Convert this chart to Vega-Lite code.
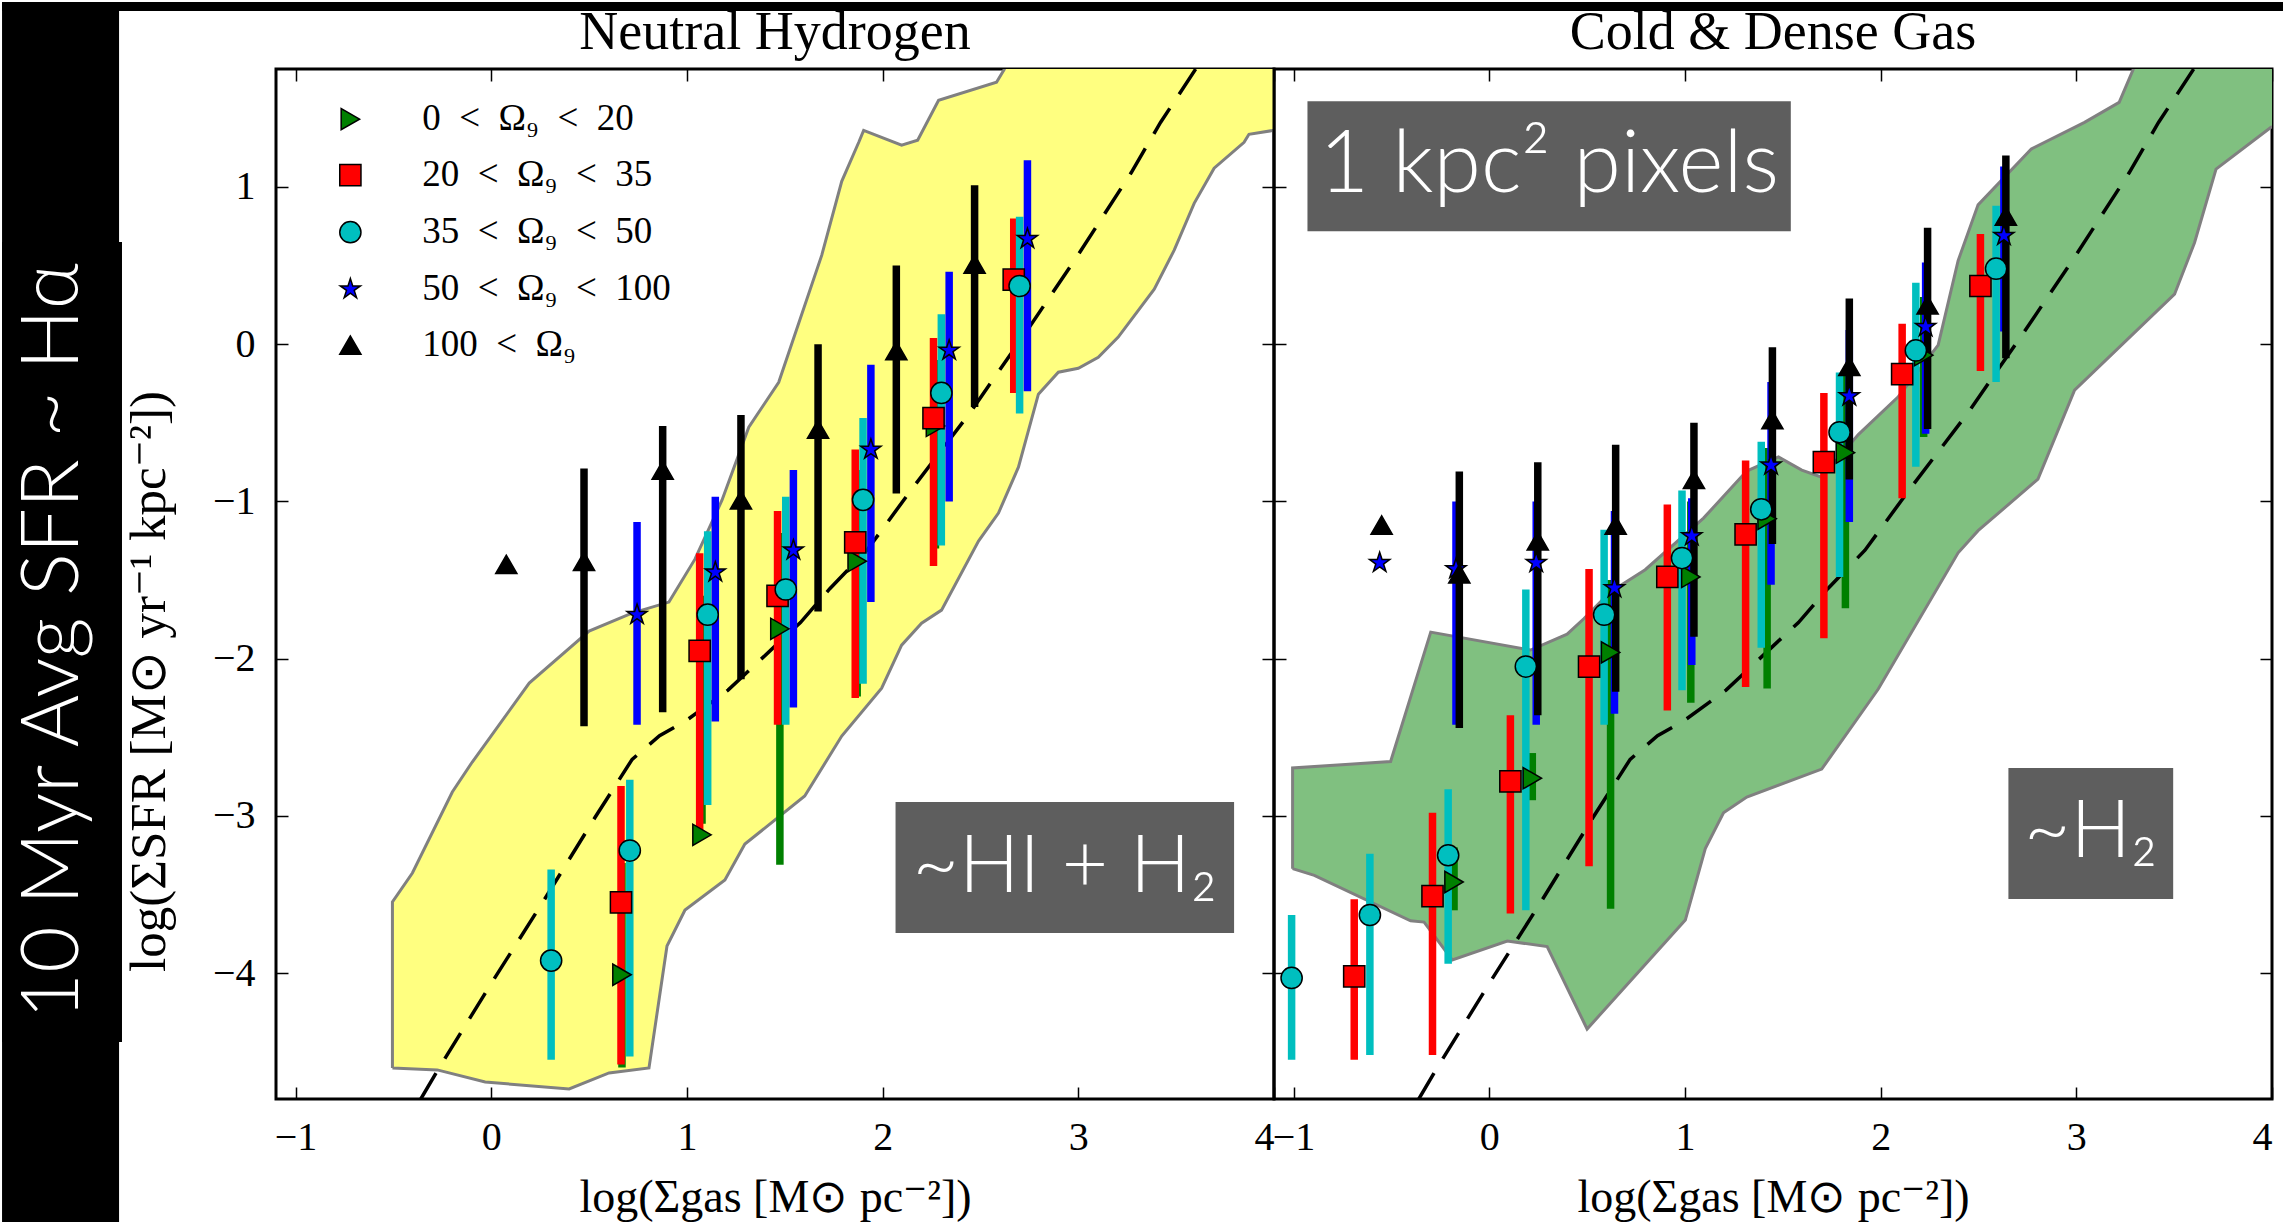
{
  "$schema": "https://vega.github.io/schema/vega-lite/v6.json",
  "padding": 0,
  "background": "white",
  "spacing": 0,
  "bounds": "flush",
  "config": {
    "view": {"stroke": "black", "strokeWidth": 3},
    "axis": {"grid": false, "domain": false, "tickColor": "black", "tickWidth": 1.5, "tickSize": -12,
      "labelFont": "Liberation Serif", "labelFontSize": 40, "labelColor": "black",
      "titleFont": "Liberation Serif", "titleFontSize": 46, "titleFontWeight": "normal", "titleColor": "black", "zindex": 1}
  },
  "datasets": {
    "strip": [
      {"x": -2.5, "x2": -1.902, "y": -5.595, "y2": 2.176},
      {"x": -2.5, "x2": -1.887, "y": -4.438, "y2": 0.65},
      {"x": -2.5, "x2": 4.0, "y": 2.119, "y2": 2.176}
    ],
    "topbar": [
      {"x": -1.1, "x2": 4.066, "y": 2.119, "y2": 2.176}
    ],
    "poly_yellow": [
      {"i": 0, "x": -0.505, "y": -4.603}, {"i": 1, "x": -0.505, "y": -3.547}, {"i": 2, "x": -0.403, "y": -3.363},
      {"i": 3, "x": -0.199, "y": -2.848}, {"i": 4, "x": -0.097, "y": -2.657}, {"i": 5, "x": 0.194, "y": -2.155},
      {"i": 6, "x": 0.5, "y": -1.824}, {"i": 7, "x": 0.719, "y": -1.71}, {"i": 8, "x": 0.908, "y": -1.64},
      {"i": 9, "x": 1.041, "y": -1.367}, {"i": 10, "x": 1.179, "y": -0.992}, {"i": 11, "x": 1.316, "y": -0.528},
      {"i": 12, "x": 1.469, "y": -0.242}, {"i": 13, "x": 1.689, "y": 0.566}, {"i": 14, "x": 1.791, "y": 1.036},
      {"i": 15, "x": 1.878, "y": 1.284}, {"i": 16, "x": 1.903, "y": 1.36}, {"i": 17, "x": 2.097, "y": 1.265},
      {"i": 18, "x": 2.179, "y": 1.297}, {"i": 19, "x": 2.286, "y": 1.551}, {"i": 20, "x": 2.582, "y": 1.666},
      {"i": 21, "x": 2.622, "y": 1.748}, {"i": 22, "x": 2.66, "y": 2.0}, {"i": 23, "x": 4.2, "y": 2.0},
      {"i": 24, "x": 4.2, "y": 1.36}, {"i": 25, "x": 4.0, "y": 1.36}, {"i": 26, "x": 3.872, "y": 1.335},
      {"i": 27, "x": 3.847, "y": 1.284}, {"i": 28, "x": 3.694, "y": 1.119}, {"i": 29, "x": 3.592, "y": 0.896},
      {"i": 30, "x": 3.49, "y": 0.598}, {"i": 31, "x": 3.388, "y": 0.35}, {"i": 32, "x": 3.204, "y": 0.045},
      {"i": 33, "x": 3.102, "y": -0.083}, {"i": 34, "x": 3.0, "y": -0.153}, {"i": 35, "x": 2.898, "y": -0.178},
      {"i": 36, "x": 2.796, "y": -0.318}, {"i": 37, "x": 2.694, "y": -0.782}, {"i": 38, "x": 2.592, "y": -1.074},
      {"i": 39, "x": 2.49, "y": -1.252}, {"i": 40, "x": 2.301, "y": -1.691}, {"i": 41, "x": 2.199, "y": -1.774},
      {"i": 42, "x": 2.097, "y": -1.914}, {"i": 43, "x": 1.995, "y": -2.187}, {"i": 44, "x": 1.791, "y": -2.492},
      {"i": 45, "x": 1.602, "y": -2.873}, {"i": 46, "x": 1.296, "y": -3.179}, {"i": 47, "x": 1.194, "y": -3.407},
      {"i": 48, "x": 0.99, "y": -3.598}, {"i": 49, "x": 0.898, "y": -3.827}, {"i": 50, "x": 0.806, "y": -4.603},
      {"i": 51, "x": 0.602, "y": -4.634}, {"i": 52, "x": 0.398, "y": -4.736}, {"i": 53, "x": -0.031, "y": -4.692},
      {"i": 54, "x": -0.276, "y": -4.615}, {"i": 55, "x": -0.505, "y": -4.603}
    ],
    "poly_green": [
      {"i": 0, "x": -1.005, "y": -3.335}, {"i": 1, "x": -1.005, "y": -2.695}, {"i": 2, "x": -0.504, "y": -2.654},
      {"i": 3, "x": -0.299, "y": -1.831}, {"i": 4, "x": 0.211, "y": -1.945}, {"i": 5, "x": 0.398, "y": -1.844},
      {"i": 6, "x": 0.483, "y": -1.746}, {"i": 7, "x": 0.617, "y": -1.577}, {"i": 8, "x": 0.797, "y": -1.434},
      {"i": 9, "x": 1.095, "y": -1.106}, {"i": 10, "x": 1.316, "y": -0.807}, {"i": 11, "x": 1.478, "y": -0.717},
      {"i": 12, "x": 1.597, "y": -0.801}, {"i": 13, "x": 1.699, "y": -0.846}, {"i": 14, "x": 1.886, "y": -0.575},
      {"i": 15, "x": 2.09, "y": -0.334}, {"i": 16, "x": 2.294, "y": -0.006}, {"i": 17, "x": 2.396, "y": 0.531},
      {"i": 18, "x": 2.498, "y": 0.886}, {"i": 19, "x": 2.77, "y": 1.241}, {"i": 20, "x": 3.042, "y": 1.411},
      {"i": 21, "x": 3.219, "y": 1.538}, {"i": 22, "x": 3.291, "y": 1.748}, {"i": 23, "x": 3.33, "y": 2.0},
      {"i": 24, "x": 4.2, "y": 2.0}, {"i": 25, "x": 4.2, "y": 1.4}, {"i": 26, "x": 3.995, "y": 1.38},
      {"i": 27, "x": 3.714, "y": 1.113}, {"i": 28, "x": 3.604, "y": 0.645}, {"i": 29, "x": 3.502, "y": 0.318},
      {"i": 30, "x": 2.991, "y": -0.292}, {"i": 31, "x": 2.804, "y": -0.858}, {"i": 32, "x": 2.498, "y": -1.186},
      {"i": 33, "x": 2.396, "y": -1.327}, {"i": 34, "x": 1.988, "y": -2.193}, {"i": 35, "x": 1.699, "y": -2.702},
      {"i": 36, "x": 1.316, "y": -2.88}, {"i": 37, "x": 1.197, "y": -2.98}, {"i": 38, "x": 1.104, "y": -3.207},
      {"i": 39, "x": 1.002, "y": -3.662}, {"i": 40, "x": 0.5, "y": -4.355}, {"i": 41, "x": 0.296, "y": -3.831},
      {"i": 42, "x": 0.092, "y": -3.795}, {"i": 43, "x": -0.189, "y": -3.916}, {"i": 44, "x": -0.333, "y": -3.675},
      {"i": 45, "x": -0.402, "y": -3.667}, {"i": 46, "x": -0.894, "y": -3.378}, {"i": 47, "x": -1.005, "y": -3.335}
    ],
    "dash": [
      {"x": -0.36, "y": -4.8}, {"x": -0.267, "y": -4.603}, {"x": 0.0, "y": -4.065}, {"x": 0.27, "y": -3.535},
      {"x": 0.53, "y": -3.01}, {"x": 0.72, "y": -2.64}, {"x": 0.86, "y": -2.49}, {"x": 1.0, "y": -2.39},
      {"x": 1.21, "y": -2.2}, {"x": 1.45, "y": -1.92}, {"x": 1.58, "y": -1.77}, {"x": 1.73, "y": -1.555},
      {"x": 1.92, "y": -1.31}, {"x": 2.15, "y": -0.92}, {"x": 2.45, "y": -0.43}, {"x": 2.74, "y": 0.09},
      {"x": 3.0, "y": 0.57}, {"x": 3.27, "y": 1.09}, {"x": 3.42, "y": 1.41}, {"x": 3.6, "y": 1.75}, {"x": 3.65, "y": 1.85}
    ],
    "legend_rows": [
      {"g": "a", "lx": -0.72, "ly": 1.431, "tx": -0.353, "t": "0\u2002<\u2002Ω₉\u2002<\u200220"},
      {"g": "b", "lx": -0.72, "ly": 1.075, "tx": -0.353, "t": "20\u2002<\u2002Ω₉\u2002<\u200235"},
      {"g": "c", "lx": -0.72, "ly": 0.712, "tx": -0.353, "t": "35\u2002<\u2002Ω₉\u2002<\u200250"},
      {"g": "d", "lx": -0.72, "ly": 0.35, "tx": -0.353, "t": "50\u2002<\u2002Ω₉\u2002<\u2002100"},
      {"g": "e", "lx": -0.72, "ly": -0.006, "tx": -0.353, "t": "100\u2002<\u2002Ω₉"}
    ],
    "left_pts": [
      {"g": "a", "x": 0.668, "y": -4.01, "lo": -4.6, "hi": -3.3},
      {"g": "a", "x": 1.077, "y": -3.12, "lo": -3.05, "hi": -1.6},
      {"g": "a", "x": 1.475, "y": -1.81, "lo": -3.31, "hi": -1.2},
      {"g": "a", "x": 1.87, "y": -1.38, "lo": -2.24, "hi": -0.8},
      {"g": "a", "x": 2.27, "y": -0.52, "lo": -1.3, "hi": -0.1},
      {"g": "b", "x": 0.663, "y": -3.55, "lo": -4.58, "hi": -2.81},
      {"g": "b", "x": 1.065, "y": -1.95, "lo": -3.11, "hi": -1.33},
      {"g": "b", "x": 1.463, "y": -1.6, "lo": -2.42, "hi": -1.06},
      {"g": "b", "x": 1.86, "y": -1.26, "lo": -2.25, "hi": -0.67},
      {"g": "b", "x": 2.26, "y": -0.47, "lo": -1.41, "hi": 0.04},
      {"g": "b", "x": 2.67, "y": 0.41, "lo": -0.31, "hi": 0.8},
      {"g": "c", "x": 0.306, "y": -3.92, "lo": -4.55, "hi": -3.34},
      {"g": "c", "x": 0.708, "y": -3.22, "lo": -4.53, "hi": -2.77},
      {"g": "c", "x": 1.106, "y": -1.72, "lo": -2.93, "hi": -1.19},
      {"g": "c", "x": 1.505, "y": -1.56, "lo": -2.42, "hi": -0.97},
      {"g": "c", "x": 1.9, "y": -0.99, "lo": -2.16, "hi": -0.47},
      {"g": "c", "x": 2.3, "y": -0.31, "lo": -1.28, "hi": 0.19},
      {"g": "c", "x": 2.7, "y": 0.37, "lo": -0.44, "hi": 0.81},
      {"g": "d", "x": 0.745, "y": -1.72, "lo": -2.42, "hi": -1.13},
      {"g": "d", "x": 1.145, "y": -1.45, "lo": -2.4, "hi": -0.97},
      {"g": "d", "x": 1.544, "y": -1.31, "lo": -2.31, "hi": -0.8},
      {"g": "d", "x": 1.94, "y": -0.67, "lo": -1.64, "hi": -0.13},
      {"g": "d", "x": 2.34, "y": -0.04, "lo": -1.0, "hi": 0.46},
      {"g": "d", "x": 2.74, "y": 0.67, "lo": -0.3, "hi": 1.17},
      {"g": "e", "x": 0.077, "y": -1.4, "lo": null, "hi": null},
      {"g": "e", "x": 0.474, "y": -1.38, "lo": -2.43, "hi": -0.79},
      {"g": "e", "x": 0.876, "y": -0.8, "lo": -2.34, "hi": -0.52},
      {"g": "e", "x": 1.276, "y": -0.99, "lo": -2.13, "hi": -0.45},
      {"g": "e", "x": 1.67, "y": -0.54, "lo": -1.7, "hi": 0.0},
      {"g": "e", "x": 2.07, "y": -0.04, "lo": -0.95, "hi": 0.5},
      {"g": "e", "x": 2.47, "y": 0.51, "lo": -0.4, "hi": 1.01}
    ],
    "right_pts": [
      {"g": "a", "x": -0.18, "y": -3.42, "lo": -3.6, "hi": -3.2},
      {"g": "a", "x": 0.22, "y": -2.76, "lo": -2.9, "hi": -2.6},
      {"g": "a", "x": 0.62, "y": -1.96, "lo": -3.59, "hi": -1.5},
      {"g": "a", "x": 1.03, "y": -1.48, "lo": -2.28, "hi": -1.0},
      {"g": "a", "x": 1.42, "y": -1.11, "lo": -2.19, "hi": -0.66},
      {"g": "a", "x": 1.82, "y": -0.69, "lo": -1.68, "hi": -0.2},
      {"g": "a", "x": 2.22, "y": -0.07, "lo": -0.59, "hi": 0.3},
      {"g": "b", "x": -0.69, "y": -4.02, "lo": -4.55, "hi": -3.53},
      {"g": "b", "x": -0.29, "y": -3.51, "lo": -4.52, "hi": -2.98},
      {"g": "b", "x": 0.108, "y": -2.78, "lo": -3.62, "hi": -2.36},
      {"g": "b", "x": 0.51, "y": -2.05, "lo": -3.32, "hi": -1.43},
      {"g": "b", "x": 0.91, "y": -1.48, "lo": -2.33, "hi": -1.02},
      {"g": "b", "x": 1.31, "y": -1.21, "lo": -2.18, "hi": -0.74},
      {"g": "b", "x": 1.71, "y": -0.75, "lo": -1.87, "hi": -0.31},
      {"g": "b", "x": 2.11, "y": -0.19, "lo": -0.98, "hi": 0.13},
      {"g": "b", "x": 2.51, "y": 0.37, "lo": -0.17, "hi": 0.7},
      {"g": "c", "x": -1.01, "y": -4.03, "lo": -4.55, "hi": -3.63},
      {"g": "c", "x": -0.61, "y": -3.63, "lo": -4.52, "hi": -3.24},
      {"g": "c", "x": -0.21, "y": -3.25, "lo": -3.94, "hi": -2.83},
      {"g": "c", "x": 0.187, "y": -2.05, "lo": -3.6, "hi": -1.56},
      {"g": "c", "x": 0.587, "y": -1.72, "lo": -2.42, "hi": -1.18},
      {"g": "c", "x": 0.985, "y": -1.36, "lo": -2.2, "hi": -0.93},
      {"g": "c", "x": 1.39, "y": -1.05, "lo": -1.93, "hi": -0.62},
      {"g": "c", "x": 1.79, "y": -0.56, "lo": -1.48, "hi": -0.18},
      {"g": "c", "x": 2.18, "y": -0.04, "lo": -0.78, "hi": 0.39},
      {"g": "c", "x": 2.59, "y": 0.48, "lo": -0.24, "hi": 0.88},
      {"g": "d", "x": -0.56, "y": -1.39, "lo": null, "hi": null},
      {"g": "d", "x": -0.17, "y": -1.43, "lo": -2.42, "hi": -1.0},
      {"g": "d", "x": 0.24, "y": -1.39, "lo": -2.42, "hi": -1.0},
      {"g": "d", "x": 0.64, "y": -1.55, "lo": -2.35, "hi": -1.06},
      {"g": "d", "x": 1.035, "y": -1.22, "lo": -2.04, "hi": -0.98},
      {"g": "d", "x": 1.44, "y": -0.77, "lo": -1.53, "hi": -0.24},
      {"g": "d", "x": 1.84, "y": -0.33, "lo": -1.13, "hi": 0.09},
      {"g": "d", "x": 2.23, "y": 0.11, "lo": -0.57, "hi": 0.52},
      {"g": "d", "x": 2.63, "y": 0.69, "lo": 0.08, "hi": 1.13},
      {"g": "e", "x": -0.55, "y": -1.15, "lo": null, "hi": null},
      {"g": "e", "x": -0.153, "y": -1.46, "lo": -2.44, "hi": -0.81},
      {"g": "e", "x": 0.248, "y": -1.25, "lo": -2.36, "hi": -0.75},
      {"g": "e", "x": 0.646, "y": -1.15, "lo": -2.21, "hi": -0.64},
      {"g": "e", "x": 1.046, "y": -0.86, "lo": -1.86, "hi": -0.5},
      {"g": "e", "x": 1.447, "y": -0.48, "lo": -1.27, "hi": -0.02},
      {"g": "e", "x": 1.84, "y": -0.14, "lo": -0.86, "hi": 0.29},
      {"g": "e", "x": 2.24, "y": 0.25, "lo": -0.54, "hi": 0.74},
      {"g": "e", "x": 2.64, "y": 0.815, "lo": -0.09, "hi": 1.2}
    ],
    "boxes_left": [
      {"x": 2.066, "x2": 3.796, "y": -2.912, "y2": -3.744, "tx": 2.931, "ty": -3.33, "t": "~HI + H₂", "fs": 80}
    ],
    "boxes_right": [
      {"x": -0.929, "x2": 1.541, "y": 1.545, "y2": 0.718, "tx": 0.306, "ty": 1.13, "t": "1 kpc² pixels", "fs": 86},
      {"x": 2.653, "x2": 3.495, "y": -2.695, "y2": -3.528, "tx": 3.074, "ty": -3.11, "t": "~H₂", "fs": 80}
    ],
    "dummy": [{"x": 0, "y": 0}]
  },
  "hconcat": [
    {
      "width": 998,
      "height": 1030,
      "resolve": {"axis": {"x": "independent", "y": "independent"}},
      "layer": [
        {
          "data": {"name": "strip"},
          "mark": {"type": "rect", "color": "black", "clip": false},
          "encoding": {
            "x": {"field": "x", "type": "quantitative", "scale": {"domain": [-1.1, 4], "nice": false, "zero": false}, "axis": null},
            "x2": {"field": "x2"},
            "y": {"field": "y", "type": "quantitative", "scale": {"domain": [-4.8, 1.75], "nice": false, "zero": false}, "axis": null},
            "y2": {"field": "y2"}
          }
        },
        {
          "data": {"values": [{"x": -2.234, "y": -1.888, "t": "10 Myr Avg SFR ~ Hα"}]},
          "mark": {"type": "text", "angle": 270, "color": "white", "font": "Lato", "fontWeight": 300, "fontSize": 80, "align": "center", "baseline": "middle", "clip": false},
          "encoding": {
            "x": {"field": "x", "type": "quantitative", "axis": null},
            "y": {"field": "y", "type": "quantitative", "axis": null},
            "text": {"field": "t"}
          }
        },
        {
          "data": {"values": [{"x": 1.45, "y": 1.877, "t": "Neutral Hydrogen"}]},
          "mark": {"type": "text", "color": "black", "font": "Liberation Serif", "fontSize": 54, "align": "center", "baseline": "alphabetic", "clip": false},
          "encoding": {
            "x": {"field": "x", "type": "quantitative", "axis": null},
            "y": {"field": "y", "type": "quantitative", "axis": null},
            "text": {"field": "t"}
          }
        },
        {
          "data": {"name": "poly_yellow"},
          "mark": {"type": "line", "fill": "#ffff80", "stroke": "#808080", "strokeWidth": 3, "clip": true},
          "encoding": {
            "x": {"field": "x", "type": "quantitative",
              "axis": {"orient": "bottom", "values": [-1, 0, 1, 2, 3, 4], "labelPadding": 30, "title": "log(Σgas [M⊙ pc⁻²])", "titleBaseline": "alphabetic", "titleY": 112}},
            "y": {"field": "y", "type": "quantitative",
              "axis": {"orient": "left", "values": [-4, -3, -2, -1, 0, 1], "labelPadding": 33, "title": "log(ΣSFR [M⊙ yr⁻¹ kpc⁻²])", "titleFontSize": 51, "titleX": -101, "titleY": 612, "titleBaseline": "bottom"}},
            "order": {"field": "i", "type": "quantitative"}
          }
        },
        {
          "data": {"name": "dash"},
          "mark": {"type": "line", "color": "black", "strokeWidth": 3.5, "strokeDash": [30, 17], "clip": true},
          "encoding": {
            "x": {"field": "x", "type": "quantitative", "axis": null},
            "y": {"field": "y", "type": "quantitative", "axis": null}
          }
        },
        {
          "data": {"name": "left_pts"},
          "transform": [{"filter": "datum.hi != null"}],
          "mark": {"type": "rule", "strokeWidth": 7.5},
          "encoding": {
            "x": {"field": "x", "type": "quantitative", "axis": null},
            "y": {"field": "lo", "type": "quantitative", "axis": null},
            "y2": {"field": "hi"},
            "stroke": {"field": "g", "type": "nominal", "legend": null,
              "scale": {"domain": ["a", "b", "c", "d", "e"], "range": ["#008000", "#ff0000", "#00bfbf", "#0000ff", "#000000"]}}
          }
        },
        {
          "data": {"name": "left_pts"},
          "mark": {"type": "point", "filled": true, "stroke": "black", "strokeWidth": 1.5, "size": 450, "opacity": 1},
          "encoding": {
            "x": {"field": "x", "type": "quantitative", "axis": null},
            "y": {"field": "y", "type": "quantitative", "axis": null},
            "fill": {"field": "g", "type": "nominal", "legend": null,
              "scale": {"domain": ["a", "b", "c", "d", "e"], "range": ["#008000", "#ff0000", "#00bfbf", "#0000ff", "#000000"]}},
            "shape": {"field": "g", "type": "nominal", "legend": null,
              "scale": {"domain": ["a", "b", "c", "d", "e"], "range": ["triangle-right", "square", "circle", "M0,-1L0.2245,-0.309L0.951,-0.309L0.3633,0.118L0.5878,0.809L0,0.382L-0.5878,0.809L-0.3633,0.118L-0.951,-0.309L-0.2245,-0.309Z", "triangle-up"]}}
          }
        },
        {
          "data": {"name": "legend_rows"},
          "mark": {"type": "point", "filled": true, "stroke": "black", "strokeWidth": 1.5, "size": 450, "opacity": 1},
          "encoding": {
            "x": {"field": "lx", "type": "quantitative", "axis": null},
            "y": {"field": "ly", "type": "quantitative", "axis": null},
            "fill": {"field": "g", "type": "nominal", "legend": null},
            "shape": {"field": "g", "type": "nominal", "legend": null}
          }
        },
        {
          "data": {"name": "legend_rows"},
          "mark": {"type": "text", "color": "black", "font": "Liberation Serif", "fontSize": 37, "align": "left", "baseline": "middle"},
          "encoding": {
            "x": {"field": "tx", "type": "quantitative", "axis": null},
            "y": {"field": "ly", "type": "quantitative", "axis": null},
            "text": {"field": "t"}
          }
        },
        {
          "data": {"name": "boxes_left"},
          "mark": {"type": "rect", "color": "#5e5e5e"},
          "encoding": {
            "x": {"field": "x", "type": "quantitative", "axis": null},
            "x2": {"field": "x2"},
            "y": {"field": "y", "type": "quantitative", "axis": null},
            "y2": {"field": "y2"}
          }
        },
        {
          "data": {"name": "boxes_left"},
          "mark": {"type": "text", "color": "white", "font": "Lato", "fontWeight": 300, "fontSize": 80, "align": "center", "baseline": "middle"},
          "encoding": {
            "x": {"field": "tx", "type": "quantitative", "axis": null},
            "y": {"field": "ty", "type": "quantitative", "axis": null},
            "text": {"field": "t"}
          }
        },
        {
          "data": {"name": "dummy"},
          "mark": {"type": "point", "opacity": 0},
          "encoding": {
            "x": {"field": "x", "type": "quantitative", "axis": {"orient": "top", "values": [-1, 0, 1, 2, 3, 4], "labels": false, "title": null}},
            "y": {"field": "y", "type": "quantitative", "axis": {"orient": "right", "values": [-4, -3, -2, -1, 0, 1], "labels": false, "title": null}}
          }
        }
      ]
    },
    {
      "width": 998,
      "height": 1030,
      "resolve": {"axis": {"x": "independent", "y": "independent"}},
      "layer": [
        {
          "data": {"name": "topbar"},
          "mark": {"type": "rect", "color": "black", "clip": false},
          "encoding": {
            "x": {"field": "x", "type": "quantitative", "scale": {"domain": [-1.1, 4], "nice": false, "zero": false}, "axis": null},
            "x2": {"field": "x2"},
            "y": {"field": "y", "type": "quantitative", "scale": {"domain": [-4.8, 1.75], "nice": false, "zero": false}, "axis": null},
            "y2": {"field": "y2"}
          }
        },
        {
          "data": {"values": [{"x": 1.45, "y": 1.877, "t": "Cold & Dense Gas"}]},
          "mark": {"type": "text", "color": "black", "font": "Liberation Serif", "fontSize": 54, "align": "center", "baseline": "alphabetic", "clip": false},
          "encoding": {
            "x": {"field": "x", "type": "quantitative", "axis": null},
            "y": {"field": "y", "type": "quantitative", "axis": null},
            "text": {"field": "t"}
          }
        },
        {
          "data": {"name": "poly_green"},
          "mark": {"type": "line", "fill": "#80c080", "stroke": "#808080", "strokeWidth": 3, "clip": true},
          "encoding": {
            "x": {"field": "x", "type": "quantitative",
              "axis": {"orient": "bottom", "values": [-1, 0, 1, 2, 3, 4], "labelPadding": 30, "title": "log(Σgas [M⊙ pc⁻²])", "titleBaseline": "alphabetic", "titleY": 112}},
            "y": {"field": "y", "type": "quantitative",
              "axis": {"orient": "left", "values": [-4, -3, -2, -1, 0, 1], "labels": false, "title": null}},
            "order": {"field": "i", "type": "quantitative"}
          }
        },
        {
          "data": {"name": "dash"},
          "mark": {"type": "line", "color": "black", "strokeWidth": 3.5, "strokeDash": [30, 17], "clip": true},
          "encoding": {
            "x": {"field": "x", "type": "quantitative", "axis": null},
            "y": {"field": "y", "type": "quantitative", "axis": null}
          }
        },
        {
          "data": {"name": "right_pts"},
          "transform": [{"filter": "datum.hi != null"}],
          "mark": {"type": "rule", "strokeWidth": 7.5},
          "encoding": {
            "x": {"field": "x", "type": "quantitative", "axis": null},
            "y": {"field": "lo", "type": "quantitative", "axis": null},
            "y2": {"field": "hi"},
            "stroke": {"field": "g", "type": "nominal", "legend": null,
              "scale": {"domain": ["a", "b", "c", "d", "e"], "range": ["#008000", "#ff0000", "#00bfbf", "#0000ff", "#000000"]}}
          }
        },
        {
          "data": {"name": "right_pts"},
          "mark": {"type": "point", "filled": true, "stroke": "black", "strokeWidth": 1.5, "size": 450, "opacity": 1},
          "encoding": {
            "x": {"field": "x", "type": "quantitative", "axis": null},
            "y": {"field": "y", "type": "quantitative", "axis": null},
            "fill": {"field": "g", "type": "nominal", "legend": null,
              "scale": {"domain": ["a", "b", "c", "d", "e"], "range": ["#008000", "#ff0000", "#00bfbf", "#0000ff", "#000000"]}},
            "shape": {"field": "g", "type": "nominal", "legend": null,
              "scale": {"domain": ["a", "b", "c", "d", "e"], "range": ["triangle-right", "square", "circle", "M0,-1L0.2245,-0.309L0.951,-0.309L0.3633,0.118L0.5878,0.809L0,0.382L-0.5878,0.809L-0.3633,0.118L-0.951,-0.309L-0.2245,-0.309Z", "triangle-up"]}}
          }
        },
        {
          "data": {"name": "boxes_right"},
          "mark": {"type": "rect", "color": "#5e5e5e"},
          "encoding": {
            "x": {"field": "x", "type": "quantitative", "axis": null},
            "x2": {"field": "x2"},
            "y": {"field": "y", "type": "quantitative", "axis": null},
            "y2": {"field": "y2"}
          }
        },
        {
          "data": {"name": "boxes_right"},
          "mark": {"type": "text", "color": "white", "font": "Lato", "fontWeight": 300, "align": "center", "baseline": "middle"},
          "encoding": {
            "x": {"field": "tx", "type": "quantitative", "axis": null},
            "y": {"field": "ty", "type": "quantitative", "axis": null},
            "text": {"field": "t"},
            "size": {"field": "fs", "type": "quantitative", "scale": null}
          }
        },
        {
          "data": {"name": "dummy"},
          "mark": {"type": "point", "opacity": 0},
          "encoding": {
            "x": {"field": "x", "type": "quantitative", "axis": {"orient": "top", "values": [-1, 0, 1, 2, 3, 4], "labels": false, "title": null}},
            "y": {"field": "y", "type": "quantitative", "axis": {"orient": "right", "values": [-4, -3, -2, -1, 0, 1], "labels": false, "title": null}}
          }
        }
      ]
    }
  ]
}
